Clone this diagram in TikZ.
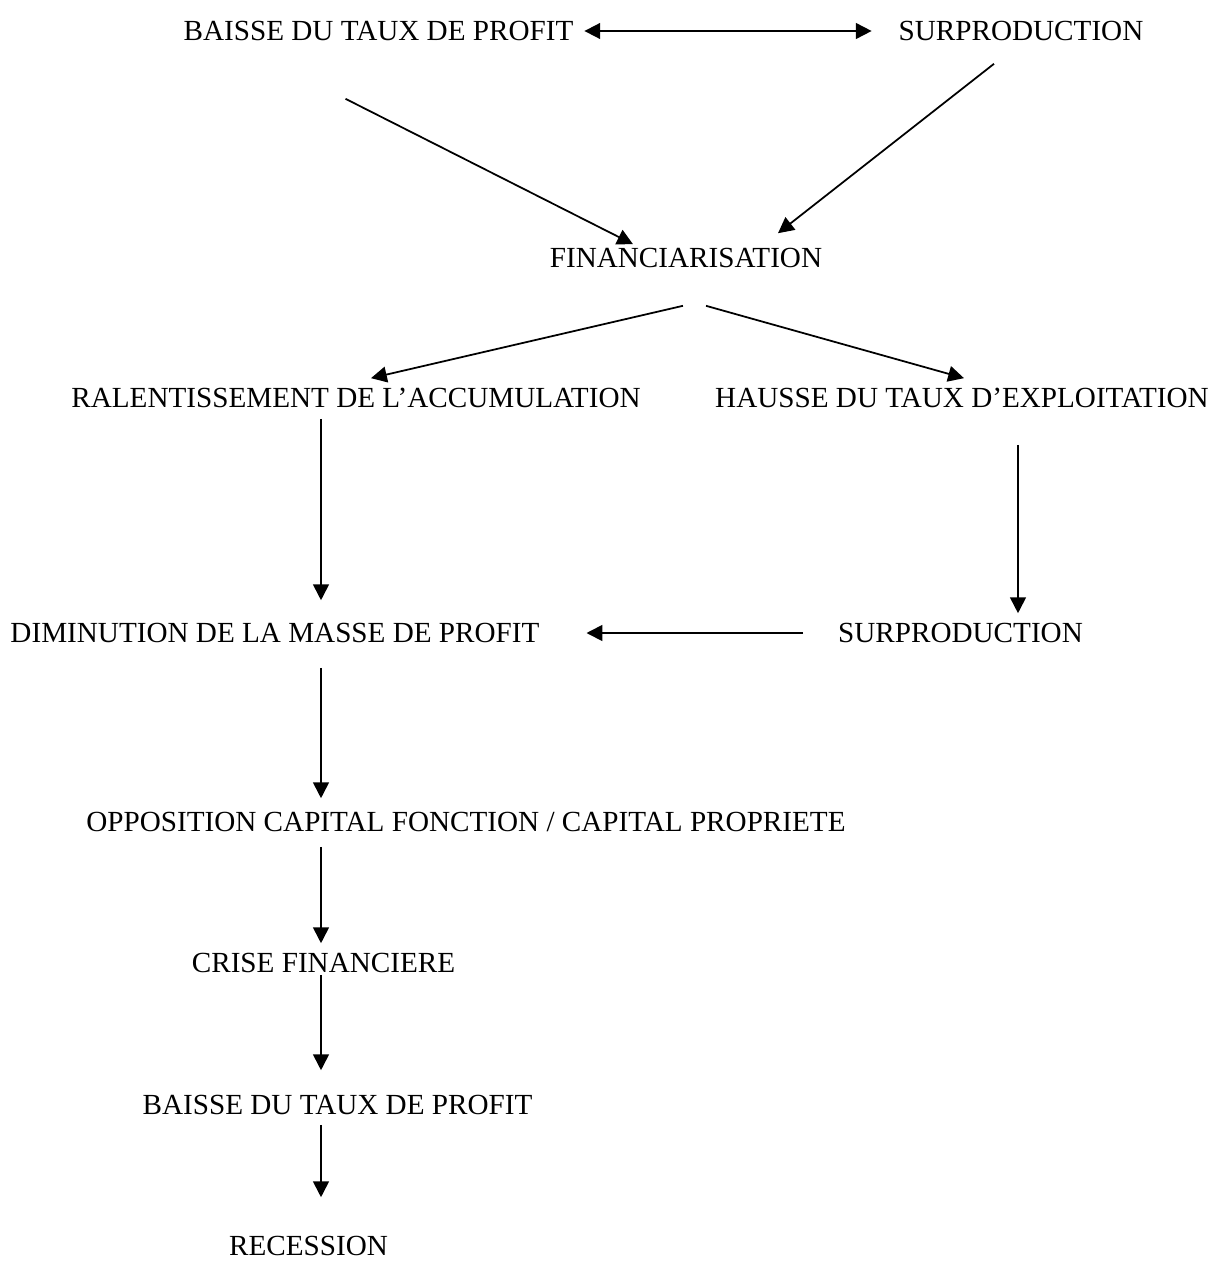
\documentclass[tikz,border=0pt]{standalone}
\usepackage{fontspec}
\setmainfont{Liberation Serif}
\usepackage{tikz}
\usetikzlibrary{arrows.meta, positioning, calc}

\begin{document}
\begin{tikzpicture}[
  x=0.02cm, y=-0.02cm,
  lbl/.style={inner sep=0pt, outer sep=0pt, font=\fontsize{16.6}{19}\selectfont},
  arr/.style={-{Triangle[length=9pt, width=9pt]}, line width=1pt},
  arrboth/.style={{Triangle[length=9pt, width=9pt]}-{Triangle[length=9pt, width=9pt]}, line width=1pt}
]
  \useasboundingbox (0,0) rectangle (1214,1261);
  \coordinate (colL) at (321,0);
  \coordinate (colR) at (1018,0);

  \node[lbl] (baisse1) at (378.5,31)  {BAISSE DU TAUX DE PROFIT};
  \node[lbl] (surp1)   at (1021,31)   {SURPRODUCTION};
  \node[lbl] (fin)     at (686,258)   {FINANCIARISATION};
  \node[lbl] (ral)     at (356,398)   {RALENTISSEMENT DE L’ACCUMULATION};
  \node[lbl] (hausse)  at (962,398)   {HAUSSE DU TAUX D’EXPLOITATION};
  \node[lbl] (dim)     at (275,633)   {DIMINUTION DE LA MASSE DE PROFIT};
  \node[lbl] (surp2)   at (960.5,633) {SURPRODUCTION};
  \node[lbl] (opp)     at (466,822)   {OPPOSITION CAPITAL FONCTION / CAPITAL PROPRIETE};
  \node[lbl] (crise)   at (323.5,963) {CRISE FINANCIERE};
  \node[lbl] (baisse2) at (337.5,1105) {BAISSE DU TAUX DE PROFIT};
  \node[lbl] (rec)     at (308.5,1246) {RECESSION};

  \draw[arrboth, shorten <=0.22cm, shorten >=0.54cm] (baisse1.east) -- (surp1.west);
  \draw[arr] ([shift={(-33,58)}]baisse1.south) -- ([shift={(-53,-4)}]fin.north);
  \draw[arr] ([shift={(-27,23)}]surp1.south) -- ([shift={(92,-15)}]fin.north);
  \draw[arr] ([shift={(-3,38)}]fin.south) -- ([shift={(15,-10)}]ral.north);
  \draw[arr] ([shift={(20,38)}]fin.south) -- ([shift={(2,-10)}]hausse.north);
  \draw[arr, shorten <=0.22cm, shorten >=0.46cm] (ral.south -| colL) -- (dim.north -| colL);
  \draw[arr, shorten <=0.74cm, shorten >=0.2cm] (hausse.south -| colR) -- (surp2.north -| colR);
  \draw[arr, shorten <=0.7cm, shorten >=0.94cm] (surp2.west) -- (dim.east);
  \draw[arr, shorten <=0.5cm, shorten >=0.28cm] (dim.south -| colL) -- (opp.north -| colL);
  \draw[arr, shorten <=0.3cm, shorten >=0.2cm] (opp.south -| colL) -- (crise.north -| colL);
  \draw[arr, shorten <=0.04cm, shorten >=0.5cm] (crise.south -| colL) -- (baisse2.north -| colL);
  \draw[arr, shorten <=0.2cm, shorten >=0.78cm] (baisse2.south -| colL) -- (rec.north -| colL);
\end{tikzpicture}
\end{document}
